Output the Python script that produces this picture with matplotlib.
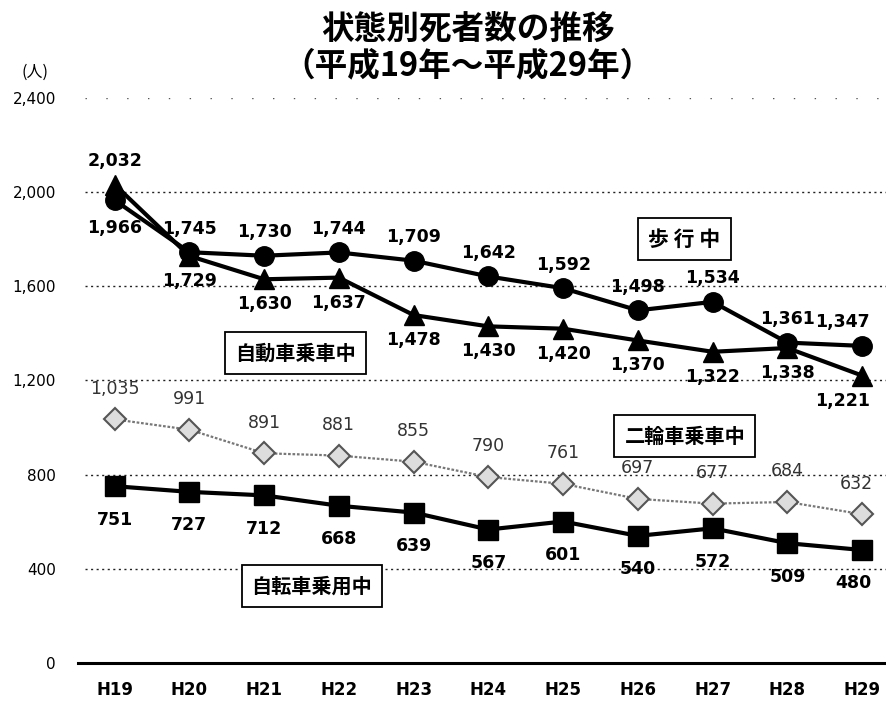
"""Traffic deaths by road-user status, H19 to H29."""

import matplotlib
matplotlib.use("Agg")
import matplotlib.pyplot as plt

plt.rcParams["font.family"] = ["Noto Sans CJK JP", "DejaVu Sans"]

YEARS = ["H19", "H20", "H21", "H22", "H23", "H24", "H25", "H26", "H27", "H28", "H29"]
PEDESTRIAN = [1966, 1745, 1730, 1744, 1709, 1642, 1592, 1498, 1534, 1361, 1347]
CAR = [2032, 1729, 1630, 1637, 1478, 1430, 1420, 1370, 1322, 1338, 1221]
MOTORCYCLE = [1035, 991, 891, 881, 855, 790, 761, 697, 677, 684, 632]
BICYCLE = [751, 727, 712, 668, 639, 567, 601, 540, 572, 509, 480]
Y_TICKS = [0, 400, 800, 1200, 1600, 2000, 2400]

W, H = 886, 707
fig = plt.figure(figsize=(W / 100, H / 100), dpi=100)
ax = fig.add_axes([78 / W, 44 / H, 1 - 78 / W, (663 - 98) / H])
x = list(range(len(YEARS)))
ax.set_xlim(-0.49, 10.32)
ax.set_ylim(0, 2400)
for s in ax.spines.values():
    s.set_visible(False)

# dotted guide lines, the top one is barely printed
ax.hlines(Y_TICKS[1:-1], -0.4, 10.32, colors="#222222", linestyles=(0, (1.5, 2.5)), lw=1.0)
ax.hlines(2400, -0.4, 10.32, colors="#555555", linestyles=(0, (1, 14)), lw=1.0)
ax.axhline(0, color="black", lw=2.2, clip_on=False)

ax.set_yticks(Y_TICKS)
ax.set_yticklabels([f"{v:,}" for v in Y_TICKS], family="DejaVu Sans", fontsize=11)
ax.set_xticks(x)
ax.set_xticklabels(YEARS, family="DejaVu Sans", fontsize=12, fontweight="bold")
ax.tick_params(axis="y", length=0, pad=16)
ax.tick_params(axis="x", length=0, pad=13)

ax.plot(x, MOTORCYCLE, color="#777777", lw=1.6, ls=(0, (1.2, 0.8)),
        marker="D", ms=11, mfc="#dddddd", mec="#555555", mew=1.5, zorder=3)
ax.plot(x, BICYCLE, color="black", lw=3, marker="s", ms=15, zorder=3)
ax.plot(x, PEDESTRIAN, color="black", lw=3, marker="o", ms=14, zorder=4)
ax.plot(x, CAR, color="black", lw=3, marker="^", ms=15, zorder=5)


def label(values, dy, bold=True, first_dy=None, last_dx=-14, color="black"):
    for i, v in enumerate(values):
        off_y = first_dy if (i == 0 and first_dy is not None) else dy
        off_x = last_dx if i == len(values) - 1 else 0
        ax.annotate(f"{v:,}", (i, v), xytext=(off_x, off_y), textcoords="offset points",
                    ha="center", va="center", family="DejaVu Sans", fontsize=12.5,
                    fontweight="bold" if bold else "normal", color=color, zorder=6)


label(PEDESTRIAN, 17, first_dy=-20)
label(CAR, -18, first_dy=17)
label(MOTORCYCLE, 22, bold=False, last_dx=-4, color="#333333")
label(BICYCLE, -24, last_dx=-6)

box = dict(boxstyle="square,pad=0.5", fc="white", ec="black", lw=1.3)
ax.text(7.62, 1801, "歩 行 中", ha="center", va="center", fontsize=15,
        fontweight="bold", bbox=dict(box, pad=0.35), zorder=7)
ax.text(2.42, 1317, "自動車乗車中", ha="center", va="center", fontsize=14.5,
        fontweight="bold", bbox=box, zorder=7)
ax.text(7.63, 964, "二輪車乗車中", ha="center", va="center", fontsize=14.5,
        fontweight="bold", bbox=box, zorder=7)
ax.text(2.64, 327, "自転車乗用中", ha="center", va="center", fontsize=14.5,
        fontweight="bold", bbox=box, zorder=7)

fig.text(0.528, 0.982, "状態別死者数の推移\n（平成19年～平成29年）", ha="center", va="top",
         fontsize=23.5, fontweight="bold", linespacing=1.12)
fig.text(35 / W, 1 - 72 / H, "(人)", ha="center", va="center", fontsize=11.5)

fig.savefig("out.png", dpi=100, facecolor="white")
